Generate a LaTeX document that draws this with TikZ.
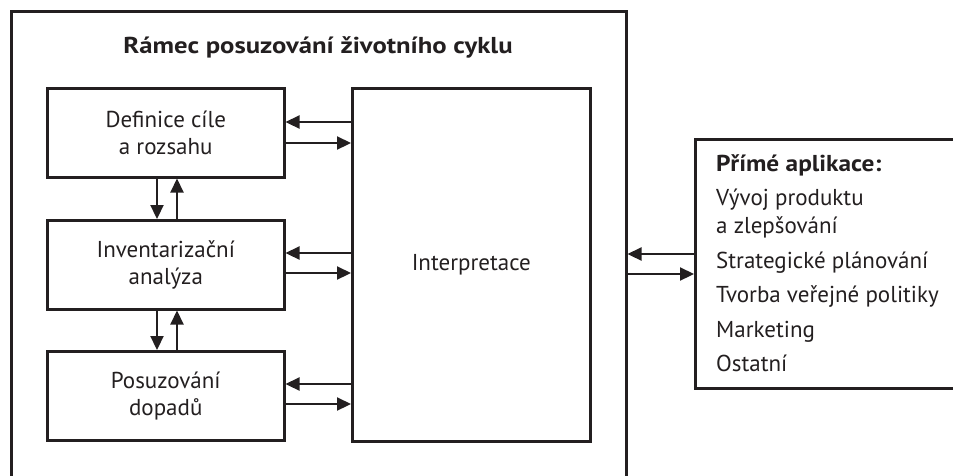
\documentclass[tikz,border=0pt]{standalone}
\usepackage{fontspec}
\setmainfont{PT Sans}
\newfontfamily\widebold[FakeStretch=1.1]{PT Sans Bold}
\newfontfamily\widerbold[FakeStretch=1.16]{PT Sans Bold}
\usetikzlibrary{arrows.meta}
\definecolor{ink}{HTML}{231F20}
\begin{document}
\begin{tikzpicture}[x=1pt,y=-1pt,
  every node/.style={text=ink},
  box/.style={draw=ink,line width=2.5pt,anchor=north west,inner sep=0pt,align=center,
    font=\fontsize{23}{27}\selectfont},
  arr/.style={draw=ink,line width=2.2pt,-{Triangle[length=14pt,width=13pt]}},
  txt/.style={anchor=base west,inner sep=0pt,font=\fontsize{23}{28}\selectfont}]
\useasboundingbox (0,0) rectangle (953,475);
\clip (0,0) rectangle (953,475);
% frame
\node[box,minimum width=615pt,minimum height=520pt] (frame) at (10,10) {};
\node[anchor=base,inner sep=0pt,font=\fontsize{23}{27}\widerbold] (title) at (318,53) {Rámec posuzování životního cyklu};
% boxes
\node[box,minimum width=237pt,minimum height=89pt] (def) at (46,87) {Definice cíle\\a rozsahu};
\node[box,minimum width=237pt,minimum height=89pt] (inv) at (46,219) {Inventarizační\\analýza};
\node[box,minimum width=237pt,minimum height=89pt] (pos) at (46,350) {Posuzování\\dopadů};
\node[box,minimum width=238pt,minimum height=353pt] (int) at (351,87) {Interpretace};
\node[box,minimum width=300pt,minimum height=249pt] (app) at (694,138) {};
% app text
\node[txt,font=\fontsize{23}{28}\widebold] (a0) at (716,171) {Přímé aplikace:};
\node[txt] (a1) at (716,205) {Vývoj produktu};
\node[txt] (a2) at (716,233) {a zlepšování};
\node[txt] (a3) at (716,268) {Strategické plánování};
\node[txt] (a4) at (716,302) {Tvorba veřejné politiky};
\node[txt] (a5) at (716,337) {Marketing};
\node[txt] (a6) at (716,371) {Ostatní};
% horizontal arrows
\draw[arr] (int.west |- 0,122) -- (def.east |- 0,122);
\draw[arr] (def.east |- 0,143) -- (int.west |- 0,143);
\draw[arr] (int.west |- 0,253) -- (inv.east |- 0,253);
\draw[arr] (inv.east |- 0,273) -- (int.west |- 0,273);
\draw[arr] (int.west |- 0,384) -- (pos.east |- 0,384);
\draw[arr] (pos.east |- 0,404) -- (int.west |- 0,404);
% vertical arrows
\draw[arr] (def.south -| 157,0) -- (inv.north -| 157,0);
\draw[arr] (inv.north -| 177,0) -- (def.south -| 177,0);
\draw[arr] (inv.south -| 157,0) -- (pos.north -| 157,0);
\draw[arr] (pos.north -| 177,0) -- (inv.south -| 177,0);
% outer arrows
\draw[arr] (app.west |- 0,254) -- (frame.east |- 0,254);
\draw[arr] (frame.east |- 0,274) -- (app.west |- 0,274);
\end{tikzpicture}
\end{document}
